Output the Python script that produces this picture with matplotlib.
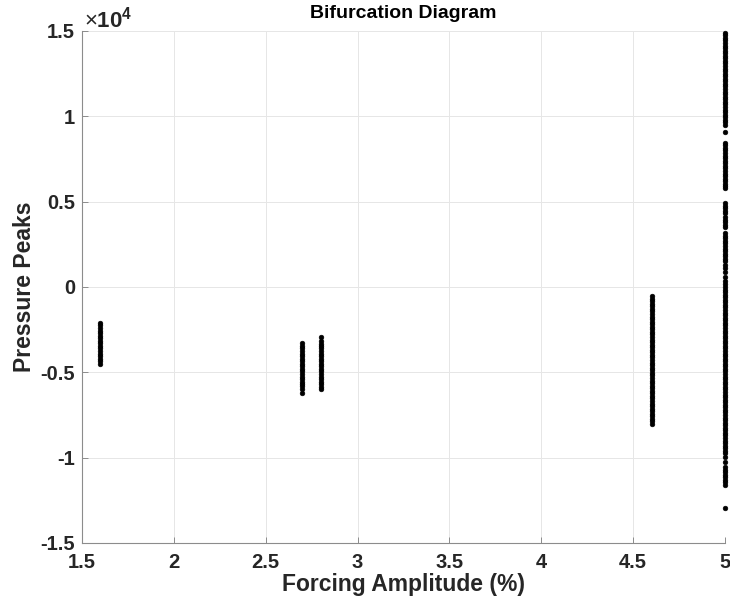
import matplotlib
matplotlib.use("Agg")
import matplotlib.pyplot as plt

plt.rcParams['font.family'] = ['Liberation Sans', 'DejaVu Sans']
plt.rcParams['axes.unicode_minus'] = False
plt.rcParams['mathtext.fontset'] = 'custom'
plt.rcParams['mathtext.rm'] = 'Liberation Sans'
plt.rcParams['mathtext.it'] = 'Liberation Sans'
plt.rcParams['mathtext.bf'] = 'Liberation Sans:bold'

# ---------------- data ----------------
title = "Bifurcation Diagram"
xlabel = "Forcing Amplitude (%)"
ylabel = "Pressure Peaks"

xticks = [1.5, 2, 2.5, 3, 3.5, 4, 4.5, 5]
xtick_labels = ["1.5", "2", "2.5", "3", "3.5", "4", "4.5", "5"]
yticks = [-15000, -10000, -5000, 0, 5000, 10000, 15000]
ytick_labels = ["-1.5", "-1", "-0.5", "0", "0.5", "1", "1.5"]

amp_16 = 1.6
peaks_16 = [-2100, -2250, -2400, -2550, -2700, -2850, -3000, -3150, -3300,
            -3450, -3600, -3750, -3900, -4050, -4200, -4350, -4500]

amp_27 = 2.7
peaks_27 = [-3300, -3450, -3600, -3750, -3900, -4050, -4200, -4350, -4500,
            -4650, -4800, -4950, -5100, -5250, -5400, -5550, -5700, -5800,
            -5950, -6200]

amp_28 = 2.8
peaks_28 = [-2930, -3150, -3350, -3450, -3600, -3750, -3900, -4050, -4200,
            -4350, -4500, -4650, -4800, -4950, -5100, -5250, -5400, -5550,
            -5700, -5850, -6000]

amp_46 = 4.6
peaks_46 = [-530, -680, -830, -980, -1130, -1280, -1430, -1580, -1730, -1880,
            -2030, -2180, -2330, -2480, -2630, -2780, -2930, -3080, -3230,
            -3380, -3530, -3680, -3830, -3980, -4130, -4280, -4430, -4580,
            -4730, -4880, -5030, -5180, -5330, -5480, -5630, -5780, -5930,
            -6080, -6230, -6380, -6530, -6680, -6830, -6980, -7130, -7280,
            -7430, -7580, -7730, -7880, -8030]

amp_50 = 5.0
peaks_50 = [14900, 14750, 14600, 14450, 14300, 14150, 14000, 13850, 13700,
            13550, 13400, 13250, 13100, 12950, 12800, 12650, 12500, 12350,
            12200, 12050, 11900, 11750, 11600, 11450, 11300, 11150, 11000,
            10850, 10700, 10550, 10400, 10250, 10100, 9950, 9800, 9650, 9500,
            9080, 8450, 8300,
            8150, 8000, 7850, 7700, 7550, 7400, 7250, 7100, 6950, 6800, 6650,
            6500, 6350, 6200, 6050, 5900, 5800,
            4900, 4750, 4600, 4450, 4350,
            4100, 3950, 3800, 3650, 3500,
            3150, 3000, 2850, 2700, 2550, 2400, 2250, 2100, 1950, 1800, 1650,
            1500, 1300, 1100, 850, 600, 350, 150,
            0, -150, -300, -450, -600, -750, -900, -1050, -1200, -1350, -1500,
            -1650, -1800, -1950, -2100, -2250, -2400, -2550, -2700, -2850,
            -3000, -3150, -3300, -3450, -3600, -3750, -3900, -4050, -4200,
            -4350, -4500, -4650, -4800, -4950, -5100, -5250, -5400, -5550,
            -5700, -5850, -6000, -6150, -6300, -6450, -6600, -6750, -6900,
            -7050, -7200, -7350, -7500, -7650, -7800, -7950, -8100, -8250,
            -8400, -8550, -8700, -8850, -9000, -9150, -9300, -9450, -9600,
            -9700,
            -9960, -10250, -10550, -10700, -10850, -11000, -11150, -11300,
            -11450, -11600, -12950]

series = [(amp_16, peaks_16), (amp_27, peaks_27), (amp_28, peaks_28),
          (amp_46, peaks_46), (amp_50, peaks_50)]

# ---------------- plot ----------------
fig = plt.figure(figsize=(7.30, 6.09), dpi=100)
ax = fig.add_axes([82/730, 1 - 543/609, (725 - 82)/730, (543 - 31)/609])

for amp, peaks in series:
    ax.plot([amp] * len(peaks), peaks, linestyle='none', marker='o',
            markersize=3.4, markeredgewidth=0.4, markeredgecolor='black',
            color='black', clip_on=False, zorder=3)

ax.set_xlim(1.5, 5)
ax.set_ylim(-15000, 15000)
ax.set_xticks(xticks)
ax.set_xticklabels(xtick_labels)
ax.set_yticks(yticks)
ax.set_yticklabels(ytick_labels)

ax.grid(True, color='#e6e6e6', linewidth=0.7)
ax.set_axisbelow(True)

for side in ['top', 'right']:
    ax.spines[side].set_visible(False)
for side in ['left', 'bottom']:
    ax.spines[side].set_color('#8c8c8c')
    ax.spines[side].set_linewidth(0.8)

ax.tick_params(axis='both', direction='in', length=4, width=0.7,
               color='#8c8c8c', labelsize=14.5, labelcolor='#262626')
ax.tick_params(axis='x', pad=7)
ax.tick_params(axis='y', pad=5)
for lbl in ax.get_xticklabels() + ax.get_yticklabels():
    lbl.set_fontweight('bold')

ax.set_xlabel(xlabel, fontsize=16.5, fontweight='bold', color='#262626',
              labelpad=1)
ax.set_ylabel(ylabel, fontsize=16.5, fontweight='bold', color='#262626',
              labelpad=3)
ax.set_title(title, fontsize=14, fontweight='bold', color='black', pad=9)

ax.text(0.003, 0.998, r'$\mathrm{×}\mathbf{10^{4}}$', transform=ax.transAxes,
        fontsize=16, color='#262626', ha='left', va='bottom')

fig.savefig('out.png', dpi=100)
